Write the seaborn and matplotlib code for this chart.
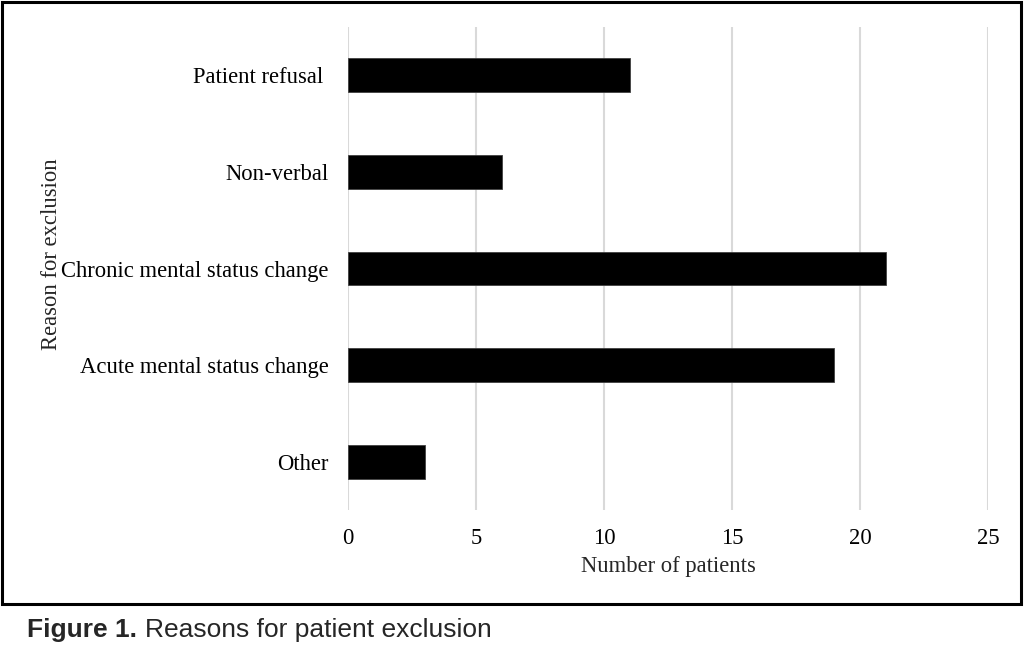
import matplotlib
matplotlib.use("Agg")
import matplotlib.pyplot as plt
import seaborn as sns
from matplotlib.patches import Rectangle

# === Data ===
reasons = [
    "Patient refusal ",
    "Non-verbal",
    "Chronic mental status change",
    "Acute mental status change",
    "Other",
]
counts = [11, 6, 21, 19, 3]
x_ticks = [0, 5, 10, 15, 20, 25]

# === Style ===
sns.set_style("white")
plt.rcParams["font.family"] = ["Liberation Serif", "DejaVu Serif"]
FS = 16.3

fig = plt.figure(figsize=(10.26, 6.5), dpi=100)
ax = fig.add_axes([348 / 1026, 1 - 510 / 650, 640 / 1026, 483 / 650])

sns.barplot(x=counts, y=reasons, orient="h", color="black", saturation=1,
            width=0.35, edgecolor="#404040", linewidth=0.6, ax=ax, zorder=3)

ax.set_xlim(0, 25)
ax.set_ylim(4.5, -0.5)
ax.set_xticks(x_ticks)
ax.set_xticklabels([str(t) for t in x_ticks])
ax.grid(axis="x", color="#d9d9d9", linewidth=1.5, zorder=0)
ax.grid(axis="y", visible=False)
for s in ax.spines.values():
    s.set_visible(False)
ax.tick_params(axis="both", length=0, labelsize=FS, colors="black")
ax.tick_params(axis="y", pad=14)
ax.tick_params(axis="x", pad=13)

ax.set_xlabel("Number of patients", fontsize=FS)
ax.set_ylabel("Reason for exclusion", fontsize=FS)
ax.xaxis.set_label_coords(0.5, -0.096)
ax.yaxis.set_label_coords(-0.447, 0.53)

# === Frame and caption ===
fig.patches.append(Rectangle((2 / 1026, 1 - 604 / 650), 1019 / 1026, 602 / 650,
                             transform=fig.transFigure, fill=False,
                             edgecolor="black", linewidth=2.2))
cap_font = ["Liberation Sans", "DejaVu Sans"]
base_y = 1 - 637 / 650
t1 = fig.text(27 / 1026, base_y, "Figure 1.", fontsize=19, fontweight="bold",
              family=cap_font, va="baseline", ha="left")
fig.canvas.draw()
x_end = fig.transFigure.inverted().transform(
    (t1.get_window_extent().x1, 0))[0]
fig.text(x_end + 8 / 1026, base_y, "Reasons for patient exclusion", fontsize=19,
         family=cap_font, va="baseline", ha="left")

fig.savefig("out.png", dpi=100, facecolor="white")
